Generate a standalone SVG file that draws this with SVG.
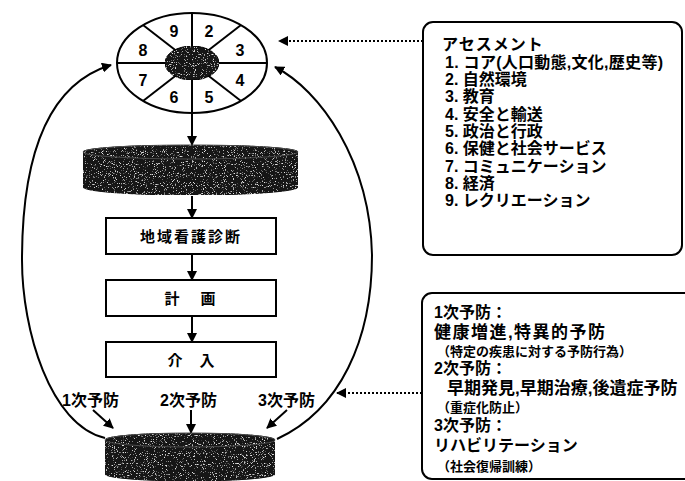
<svg xmlns="http://www.w3.org/2000/svg" width="685" height="481" viewBox="0 0 685 481">
<style>
  .t { font-family: "Liberation Sans", "Noto Sans CJK JP", sans-serif; font-weight: bold; fill: #000; }
  .num { font-size: 16px; text-anchor: middle; }
  .ln { fill: none; stroke: #000; stroke-width: 2; }
  .box { fill: #fff; stroke: #000; stroke-width: 2; }
  .dot { fill: none; stroke: #000; stroke-width: 2; stroke-dasharray: 2 2; }
  .cyl { fill: #151515; stroke: #111; stroke-width: 1; }
  .rim { fill: none; stroke: #4a4a4a; stroke-width: 1; }
</style>
<defs>
  <marker id="ah" viewBox="0 0 10 10" refX="9" refY="5" markerWidth="10" markerHeight="10" markerUnits="userSpaceOnUse" orient="auto">
    <path d="M0,0 L10,5 L0,10 Z" fill="#000"/>
  </marker>
  <filter id="grain" x="0" y="0" width="100%" height="100%">
    <feTurbulence type="fractalNoise" baseFrequency="0.9" numOctaves="2" seed="5" result="n"/>
    <feColorMatrix in="n" type="matrix" values="0 0 0 0 0.8  0 0 0 0 0.8  0 0 0 0 0.8  6 0 0 0 -3.7" result="sp"/>
    <feComposite in="sp" in2="SourceGraphic" operator="in" result="spk"/>
    <feMerge><feMergeNode in="SourceGraphic"/><feMergeNode in="spk"/></feMerge>
  </filter>
</defs>

<g id="connectors">
  <line class="ln" x1="192" y1="113" x2="192" y2="145" marker-end="url(#ah)"/>
  <line class="ln" x1="192" y1="196" x2="192" y2="218" marker-end="url(#ah)"/>
  <line class="ln" x1="192" y1="254" x2="192" y2="280" marker-end="url(#ah)"/>
  <line class="ln" x1="192" y1="316" x2="192" y2="342" marker-end="url(#ah)"/>
  <path class="ln" d="M105,438 C50,425 22,330 22,260 C22,160 45,85 111,65" marker-end="url(#ah)"/>
  <path class="ln" d="M277,439 C340,410 372,340 372,255 C370,160 320,90 275,67" marker-end="url(#ah)"/>
  <line class="ln" x1="93" y1="410" x2="113" y2="428" marker-end="url(#ah)"/>
  <line class="ln" x1="191" y1="410" x2="191" y2="433" marker-end="url(#ah)"/>
  <line class="ln" x1="287" y1="410" x2="267" y2="428" marker-end="url(#ah)"/>
  <line class="dot" x1="423" y1="41" x2="279" y2="41" marker-end="url(#ah)"/>
  <line class="dot" x1="446" y1="393" x2="337" y2="393" marker-end="url(#ah)"/>
</g>

<g id="assessment-wheel">
  <ellipse cx="192" cy="63" rx="75" ry="50" fill="#fff" stroke="#000" stroke-width="2"/>
  <line class="ln" x1="192" y1="13" x2="192" y2="113"/>
  <line class="ln" x1="117" y1="63" x2="267" y2="63"/>
  <line class="ln" x1="143" y1="25" x2="241" y2="101"/>
  <line class="ln" x1="241" y1="25" x2="143" y2="101"/>
  <ellipse cx="192" cy="63" rx="27" ry="17" fill="#151515" stroke="#000" stroke-width="1" filter="url(#grain)"/>
  <text class="t num" x="174" y="37">9</text>
  <text class="t num" x="209" y="37">2</text>
  <text class="t num" x="143" y="56">8</text>
  <text class="t num" x="240" y="56">3</text>
  <text class="t num" x="143" y="86">7</text>
  <text class="t num" x="240" y="86">4</text>
  <text class="t num" x="174" y="103">6</text>
  <text class="t num" x="209" y="103">5</text>
</g>

<g id="cylinder-top">
  <path class="cyl" filter="url(#grain)" d="M83,152 A107.5,7 0 0 1 298,152 L298,187 A107.5,8 0 0 1 83,187 Z"/>
  <ellipse class="rim" cx="190.5" cy="152" rx="107.5" ry="7"/>
</g>

<g id="diagnosis">
  <rect class="box" x="106" y="218" width="170" height="36"/>
  <text class="t" x="191" y="242" font-size="15" text-anchor="middle" letter-spacing="2">地域看護診断</text>
</g>
<g id="plan">
  <rect class="box" x="106" y="280" width="170" height="36"/>
  <text class="t" x="172" y="304" font-size="15" text-anchor="middle">計</text>
  <text class="t" x="208" y="304" font-size="15" text-anchor="middle">画</text>
</g>
<g id="intervention">
  <rect class="box" x="106" y="342" width="170" height="35"/>
  <text class="t" x="175" y="366" font-size="15" text-anchor="middle">介</text>
  <text class="t" x="207" y="366" font-size="15" text-anchor="middle">入</text>
</g>

<g id="prevention-labels">
  <text class="t" x="62" y="406" font-size="16">1次予防</text>
  <text class="t" x="160" y="406" font-size="16">2次予防</text>
  <text class="t" x="258" y="406" font-size="16">3次予防</text>
</g>

<g id="cylinder-bottom">
  <path class="cyl" filter="url(#grain)" d="M105,440 A85,7 0 0 1 275,440 L275,474 A85,7 0 0 1 105,474 Z"/>
  <ellipse class="rim" cx="190" cy="440" rx="85" ry="7"/>
</g>

<g id="assessment-box">
  <rect class="box" x="423" y="22" width="259" height="233" rx="10"/>
  <text class="t" font-size="16">
    <tspan x="442" y="50" letter-spacing="1">アセスメント</tspan>
    <tspan x="445" y="68" textLength="218" lengthAdjust="spacing">1. コア(人口動態,文化,歴史等)</tspan>
    <tspan x="445" y="85">2. 自然環境</tspan>
    <tspan x="445" y="102">3. 教育</tspan>
    <tspan x="445" y="120">4. 安全と輸送</tspan>
    <tspan x="445" y="137">5. 政治と行政</tspan>
    <tspan x="445" y="154">6. 保健と社会サービス</tspan>
    <tspan x="445" y="172">7. コミュニケーション</tspan>
    <tspan x="445" y="189">8. 経済</tspan>
    <tspan x="445" y="206">9. レクリエーション</tspan>
  </text>
</g>

<g id="prevention-box">
  <rect class="box" x="422" y="293" width="280" height="186" rx="10"/>
  <text class="t" font-size="16">
    <tspan x="434" y="318">1次予防：</tspan>
    <tspan x="434" y="338" font-size="17" textLength="171" lengthAdjust="spacing">健康増進,特異的予防</tspan>
    <tspan x="437" y="356" font-size="13">（特定の疾患に対する予防行為）</tspan>
    <tspan x="434" y="374">2次予防：</tspan>
    <tspan x="447" y="394" font-size="17">早期発見,早期治療,後遺症予防</tspan>
    <tspan x="437" y="412" font-size="13">（重症化防止）</tspan>
    <tspan x="434" y="431">3次予防：</tspan>
    <tspan x="434" y="451">リハビリテーション</tspan>
    <tspan x="437" y="471" font-size="13">（社会復帰訓練）</tspan>
  </text>
</g>
</svg>
